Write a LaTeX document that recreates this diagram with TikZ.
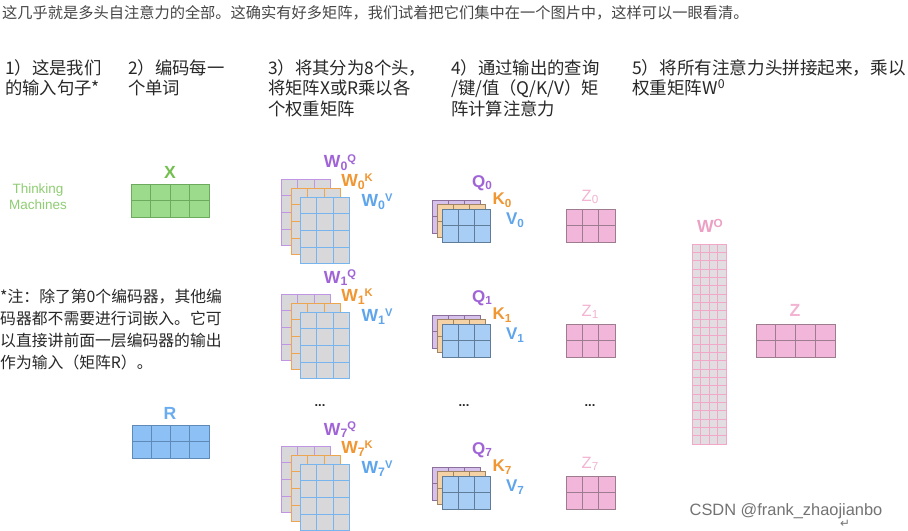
\documentclass[tikz,border=0pt]{standalone}
\usepackage{fontspec}
\setmainfont{Noto Sans CJK SC}
\newfontfamily\labfont{Liberation Sans}
\newfontfamily\symfont{DejaVu Sans}
\usetikzlibrary{positioning}

% a matrix drawn as a grid of cells: corner, columns, rows, cell width, cell height, style
\newcommand{\gridmat}[6]{%
  \begin{scope}[shift={(#1)}]
    \filldraw[#6] (0,0) rectangle ({#2*#4},{#3*#5});
    \foreach \gi in {1,...,#2} \draw[#6] ({\gi*#4},0) -- ++(0,{#3*#5});
    \foreach \gj in {1,...,#3} \draw[#6] (0,{\gj*#5}) -- ++({#2*#4},0);
  \end{scope}}
\newcommand{\wname}[2]{W\raisebox{-0.3ex}{\fontsize{10.5}{10.5}\selectfont #1}\raisebox{0.55ex}{\fontsize{9.5}{9.5}\selectfont #2}}
\newcommand{\vname}[2]{#1\raisebox{-0.3ex}{\fontsize{10}{10}\selectfont #2}}

\begin{document}
\begin{tikzpicture}[x=0.03cm, y=-0.03cm,
    steptext/.style={anchor=north west, inner sep=0pt, align=left, text=txtdark,
      font=\fontsize{14.8}{17.6}\selectfont},
    matlab/.style={inner sep=0pt, font=\labfont\bfseries\fontsize{15}{15}\selectfont},
    qkvlab/.style={inner sep=0pt, font=\labfont\bfseries\fontsize{14.5}{14.5}\selectfont},
    zlab/.style={inner sep=0pt, text=zname, font=\labfont\fontsize{14}{14}\selectfont},
    dotlab/.style={inner sep=0pt, text=txtdark, font=\labfont\bfseries\fontsize{11}{11}\selectfont},
    wqmat/.style={draw=wqline, fill=cellgray, line width=0.7pt},
    wkmat/.style={draw=wkline, fill=cellgray, line width=0.7pt},
    wvmat/.style={draw=wvline, fill=cellgray, line width=0.7pt},
    qmat/.style={draw=qline, fill=qfill, line width=0.7pt},
    kmat/.style={draw=kline, fill=kfill, line width=0.7pt},
    vmat/.style={draw=vline, fill=vfill, line width=0.7pt},
    zmat/.style={draw=zline, fill=zfill, line width=0.7pt},
    xmat/.style={draw=xline, fill=xfill, line width=0.7pt},
    rmat/.style={draw=rline, fill=rfill, line width=0.7pt},
    womat/.style={draw=woline, fill=wofill, line width=0.5pt}]
    % Colours
    \definecolor{txtdark}{RGB}{40, 40, 40}
    \definecolor{txtgray}{RGB}{70, 70, 70}
    \definecolor{cellgray}{RGB}{216, 216, 218}
    \definecolor{wqcol}{RGB}{160, 100, 215}
    \definecolor{wkcol}{RGB}{240, 150, 50}
    \definecolor{wvcol}{RGB}{95, 165, 235}
    \definecolor{wqline}{RGB}{192, 150, 228}
    \definecolor{wkline}{RGB}{238, 165, 80}
    \definecolor{wvline}{RGB}{120, 180, 238}
    \definecolor{qfill}{RGB}{214, 192, 236}
    \definecolor{qline}{RGB}{140, 112, 155}
    \definecolor{kfill}{RGB}{244, 210, 165}
    \definecolor{kline}{RGB}{160, 132, 100}
    \definecolor{vfill}{RGB}{168, 206, 246}
    \definecolor{vline}{RGB}{95, 124, 152}
    \definecolor{zfill}{RGB}{242, 182, 218}
    \definecolor{zline}{RGB}{156, 124, 142}
    \definecolor{zname}{RGB}{242, 180, 210}
    \definecolor{xfill}{RGB}{157, 219, 140}
    \definecolor{xline}{RGB}{108, 170, 94}
    \definecolor{xcol}{RGB}{115, 192, 80}
    \definecolor{rfill}{RGB}{141, 192, 244}
    \definecolor{rline}{RGB}{95, 138, 184}
    \definecolor{rcol}{RGB}{105, 172, 240}
    \definecolor{wofill}{RGB}{226, 221, 224}
    \definecolor{woline}{RGB}{242, 166, 200}
    \definecolor{wocol}{RGB}{236, 160, 196}

    \useasboundingbox[fill=white] (0,0) rectangle (908,530);

    % Heading and step captions
    \node[anchor=west, inner sep=0pt, text=txtgray, font=\fontsize{13}{15}\selectfont] (title) at (2,13)
      {这几乎就是多头自注意力的全部。这确实有好多矩阵，我们试着把它们集中在一个图片中，这样可以一眼看清。};
    \node[steptext] (s1) at (5,59) {1）这是我们\\的输入句子*};
    \node[steptext] (s2) at (128,59) {2）编码每一\\个单词};
    \node[steptext] (s3) at (268,59) {3）将其分为8个头，\\将矩阵X或R乘以各\\个权重矩阵};
    \node[steptext] (s4) at (451,59) {4）通过输出的查询\\/键/值（Q/K/V）矩\\阵计算注意力};
    \node[steptext, font=\fontsize{15}{17.6}\selectfont] (s5) at (632,59) {5）将所有注意力头拼接起来，乘以\\权重矩阵W\textsuperscript{0}};

    % Input sentence and embeddings
    \node[inner sep=0pt, align=center, text=xcol!80, font=\labfont\fontsize{11.5}{13.6}\selectfont] (words) at (38,197) {Thinking\\Machines};
    \node[matlab, text=xcol] (xname) at (170,172) {X};
    \gridmat{131,184}{4}{2}{19.5}{16.5}{xmat}
    \node[matlab, text=rcol] (rname) at (170,413) {R};
    \gridmat{132,425}{4}{2}{19.3}{16.5}{rmat}
    \node[anchor=north west, inner sep=0pt, align=left, text=txtdark, font=\fontsize{13.5}{18.7}\selectfont] (note) at (0,289)
      {*注：除了第0个编码器，其他编\\码器都不需要进行词嵌入。它可\\以直接讲前面一层编码器的输出\\作为输入（矩阵R）。};

    % Attention heads 0, 1 and 7
    \foreach \h/\dy in {0/0, 1/115, 7/267} {
      \gridmat{281,{179+\dy}}{3}{4}{16.6}{16.7}{wqmat}
      \gridmat{291,{188+\dy}}{3}{4}{16.6}{16.7}{wkmat}
      \gridmat{300,{197+\dy}}{3}{4}{16.6}{16.7}{wvmat}
      \node[matlab, text=wqcol] (wq\h) at (340,{163+\dy}) {\wname{\h}{Q}};
      \node[matlab, text=wkcol] (wk\h) at (357,{182+\dy}) {\wname{\h}{K}};
      \node[matlab, text=wvcol] (wv\h) at (377,{202+\dy}) {\wname{\h}{V}};
      \gridmat{432,{200+\dy}}{3}{2}{16}{16.5}{qmat}
      \gridmat{437,{204.5+\dy}}{3}{2}{16}{16.5}{kmat}
      \gridmat{442,{209+\dy}}{3}{2}{16}{16.5}{vmat}
      \node[qkvlab, text=wqcol] (q\h) at (482,{183+\dy}) {\vname{Q}{\h}};
      \node[qkvlab, text=wkcol] (k\h) at (502,{200+\dy}) {\vname{K}{\h}};
      \node[qkvlab, text=wvcol] (v\h) at (515,{220+\dy}) {\vname{V}{\h}};
      \gridmat{566,{209+\dy}}{3}{2}{16.3}{16.5}{zmat}
      \node[zlab] (z\h) at (590,{197+\dy}) {\vname{Z}{\h}};
    }
    \node[dotlab] (wdots) at (320,406) {...};
    \node[dotlab] (qdots) at (464,406) {...};
    \node[dotlab] (zdots) at (590,406) {...};

    % Output projection
    \node[matlab, text=wocol] (woname) at (710,226) {W\raisebox{0.6ex}{\fontsize{10}{10}\selectfont O}};
    \gridmat{692,244}{4}{24}{8.5}{8.33}{womat}
    \node[matlab, text=zname] (zname) at (795,310) {Z};
    \gridmat{756,324}{4}{2}{19.75}{16.5}{zmat}

    % Watermark
    \node[inner sep=0pt, text=black!55, font=\labfont\fontsize{14}{14}\selectfont] (mark) at (786,511) {CSDN @frank\_zhaojianbo};
    \node[inner sep=0pt, text=black!55, font=\symfont\fontsize{10}{10}\selectfont] (ret) at (845,524) {↵};
\end{tikzpicture}
\end{document}
